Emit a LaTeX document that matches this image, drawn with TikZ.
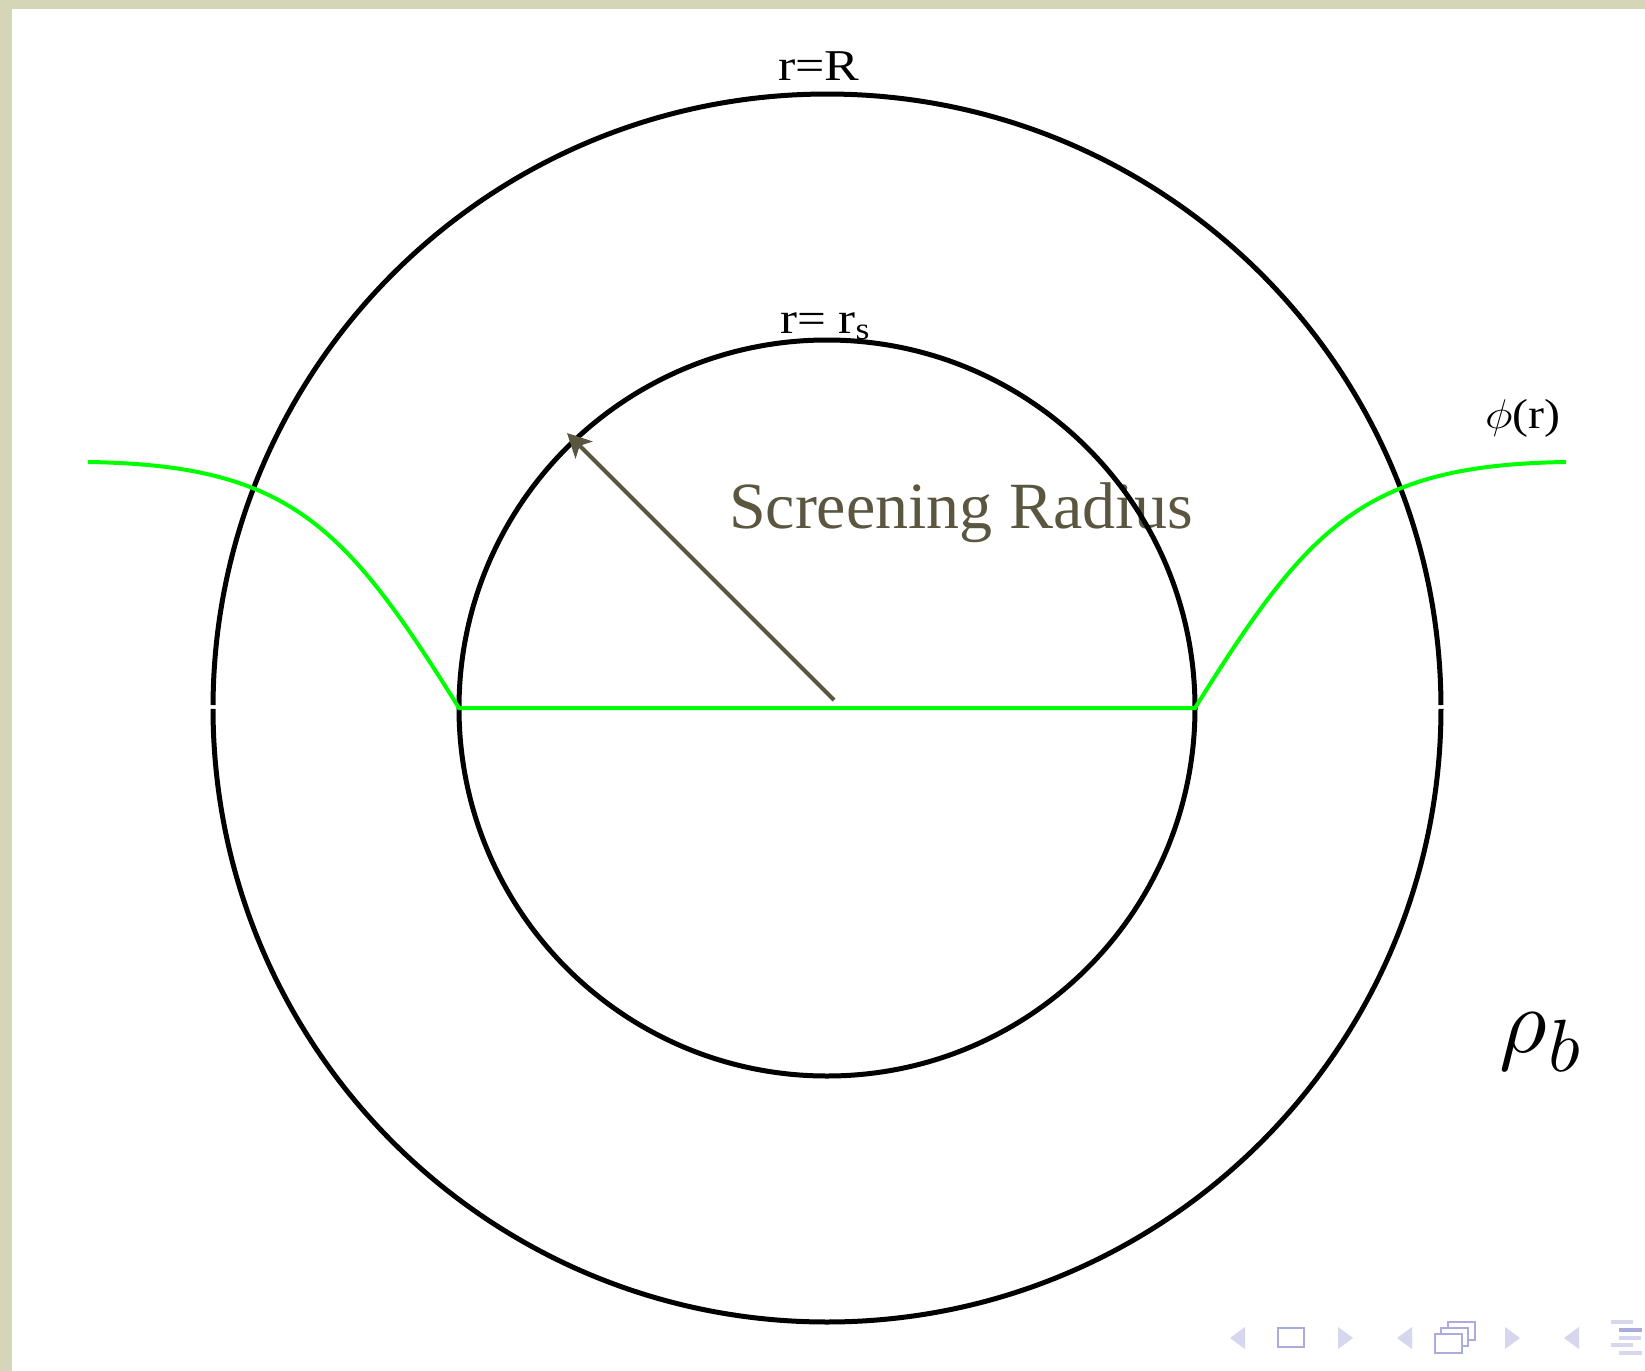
\documentclass[tikz,border=0pt]{standalone}
\usepackage{fontspec}
\setmainfont{Liberation Serif}
\usetikzlibrary{arrows.meta}
\definecolor{bgbeige}{HTML}{D5D5B7}
\definecolor{olivetext}{HTML}{5B5640}
\definecolor{navlight}{HTML}{D6D6EF}
\definecolor{navdark}{HTML}{ABABDE}
\definecolor{phigreen}{HTML}{00FF00}
\tikzset{
  ring/.style={line width=2.5pt, black},
  potential/.style={line width=2pt, phigreen, line join=miter},
  radiusarrow/.style={line width=2pt, olivetext, -{Stealth[length=12pt,width=12pt,inset=3pt]}},
  lbl/.style={anchor=base west, inner sep=0pt, outer sep=0pt},
  navtri/.style={fill=navlight, draw=none},
  navbox/.style={draw=navdark, line width=1pt, fill=white}
}
\begin{document}
\begin{tikzpicture}[x=0.5pt,y=-0.5pt]
\useasboundingbox (0,0) rectangle (1645,1371);
\fill[white] (0,0) rectangle (1645,1371);
\fill[bgbeige] (0,0) rectangle (1645,9);
\fill[bgbeige] (0,0) rectangle (12,1371);

% label under the ring
\node[lbl, text=olivetext, font=\fontsize{33}{36}\selectfont] (scr) at (729,528) {Screening Radius};

% circles
\coordinate (c) at (827,708);
\draw[ring] (c) ++(0.28:307pt) arc[start angle=0.28, end angle=179.72, radius=307pt];
\draw[ring] (c) ++(180.09:307pt) arc[start angle=180.09, end angle=359.91, radius=307pt];
\draw[ring] (c) circle[radius=184pt];

% potential curve
\coordinate (lstart) at (88,462);
\coordinate (lin) at (459,708);
\coordinate (rin) at (1195,708);
\coordinate (rstart) at (1566,462);
\draw[potential] (lstart) .. controls (290,465) and (345,525) .. (lin) -- (rin)
  .. controls (1309,525) and (1364,465) .. (rstart);

% arrow
\coordinate (arrS) at (834,700);
\coordinate (arrE) at (567,433);
\draw[radiusarrow] (arrS) -- (arrE);

% labels
\node[lbl, font=\fontsize{22}{24}\selectfont] (lR) at (778,80) {\scalebox{1.18}[1]{r=R}};
\node[lbl, font=\fontsize{22}{24}\selectfont] (lrs) at (780,333) {\scalebox{1.16}[1]{r= r\textsubscript{s}}};
\node[lbl, font=\fontsize{21}{24}\selectfont] (lphi) at (1485,428) {\scalebox{1.14}[1]{$\phi$(r)}};
\node[lbl] (lrho) at (1499,1052) {\scalebox{4.6}{$\rho$}\kern1pt\raisebox{-9.5pt}{\scalebox{3.7}{$b$}}};

% navigation symbols
\fill[navtri] (1230,1338) -- (1245,1327) -- (1245,1349) -- cycle;
\draw[navbox] (1278,1328) rectangle (1304,1347);
\fill[navtri] (1353,1338) -- (1338,1327) -- (1338,1349) -- cycle;
\fill[navtri] (1397,1338) -- (1412,1327) -- (1412,1349) -- cycle;
\draw[navbox] (1448,1322) rectangle (1475,1340);
\draw[navbox] (1441,1328) rectangle (1468,1346);
\draw[navbox] (1435,1334) rectangle (1462,1353);
\fill[navtri] (1520,1338) -- (1505,1327) -- (1505,1349) -- cycle;
\fill[navtri] (1564,1338) -- (1579,1327) -- (1579,1349) -- cycle;
\fill[navlight] (1611,1320) rectangle (1633,1324);
\fill[navdark] (1619,1328) rectangle (1642,1332);
\fill[navlight] (1619,1336) rectangle (1641,1340);
\fill[navlight] (1611,1343) rectangle (1633,1347);
\fill[navlight] (1619,1351) rectangle (1642,1355);
\end{tikzpicture}
\end{document}
